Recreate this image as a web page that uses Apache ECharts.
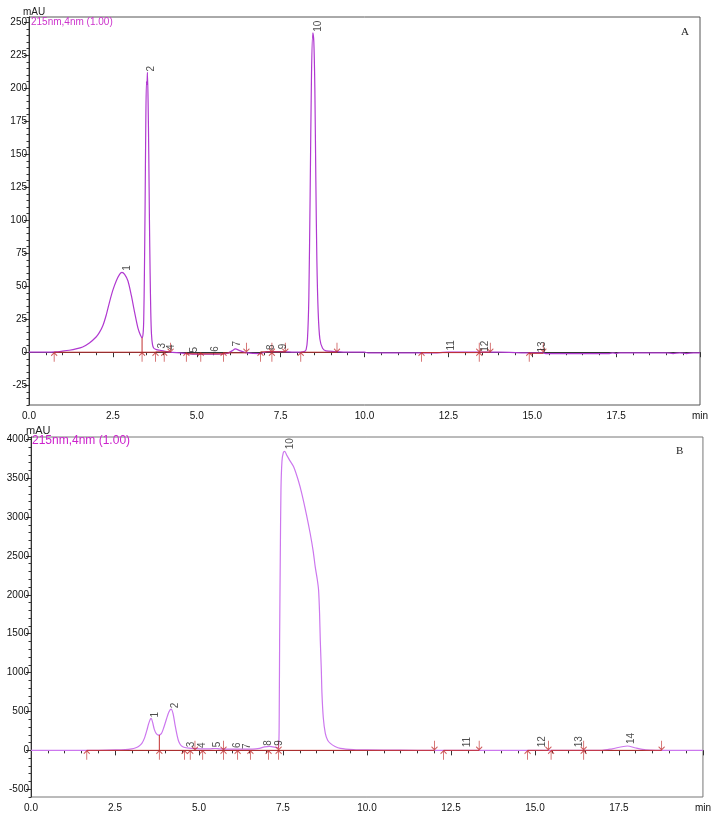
<!DOCTYPE html>
<html>
<head>
<meta charset="utf-8">
<script src="https://cdn.jsdelivr.net/npm/echarts@6.0.0/dist/echarts.min.js"></script>
<style>
  body { margin: 0; background: #fff; }
  #box { width: 714px; height: 814px; }
</style>
</head>
<body>
<div id="box"></div>
<script>
// ---- panel A : chromatogram (min, mAU) ----
const curveA = [
  [0, 0], [0.5, 0], [0.8, 0.2], [1.0, 0.8], [1.2, 1.5], [1.4, 2.5], [1.6, 4], [1.8, 7],
  [2.0, 11.5], [2.1, 15], [2.2, 20], [2.3, 28], [2.4, 38], [2.5, 47], [2.6, 54], [2.7, 59],
  [2.77, 60.5], [2.85, 59], [2.95, 54], [3.05, 43], [3.15, 30], [3.25, 18], [3.32, 13], [3.37, 11],
  [3.40, 14], [3.42, 25], [3.44, 60], [3.46, 110], [3.48, 170], [3.50, 205], [3.515, 203], [3.53, 212],
  [3.55, 190], [3.57, 150], [3.59, 100], [3.61, 60], [3.63, 30], [3.65, 14], [3.68, 6], [3.72, 3],
  [3.8, 2], [3.9, 1.5], [4.0, 1], [4.2, 0], [4.5, -0.5], [5.0, -1.5], [5.5, -1.5], [5.9, -1],
  [6.05, 1], [6.15, 2.5], [6.3, 1], [6.5, -0.5], [6.9, -1], [7.1, 0.5], [7.5, 0.5], [8.0, 0],
  [8.2, 0.5], [8.26, 2], [8.30, 10], [8.34, 40], [8.38, 120], [8.42, 210], [8.46, 242], [8.49, 235],
  [8.52, 200], [8.55, 130], [8.58, 70], [8.62, 30], [8.67, 10], [8.75, 3], [8.85, 1], [9.1, 0.5],
  [9.5, 0], [10.0, 0], [10.1, -0.5], [11, -0.5], [12, -0.5], [12.5, 0], [13, 0], [13.5, 0],
  [14, 0], [15, -0.5], [15.3, -0.5], [15.4, -1], [16, -1], [17, -1], [17.3, -1], [17.4, -0.5],
  [17.5, -1], [17.6, -0.5], [18, -0.5], [19, -0.5], [19.2, -1], [19.4, -0.5], [19.6, -1], [19.8, -0.5], [20, -0.5]
];
const peakNamesA = ['1', '2', '3', '4', '5', '6', '7', '8', '9', '10', '11', '12', '13'];
const peakTimesA = [2.92, 3.65, 3.97, 4.25, 4.94, 5.54, 6.2, 7.22, 7.57, 8.61, 12.58, 13.59, 15.3];
const peakLevelsA = [61, 212, 2, 1, -1, -0.5, 3.5, 1, 1.5, 242, 0.5, -0.5, -1];
const upArrowsA = [0.75, 3.37, 3.77, 4.03, 4.69, 5.12, 5.80, 6.90, 7.24, 8.10, 11.70, 13.42, 14.91];
const downArrowsA = [4.22, 6.48, 7.24, 7.64, 9.18, 13.42, 13.75, 15.33];
// baseline segments: [start, end, level]
const baseA = [[0.75, 3.77, 0], [3.77, 4.22, 0.3], [4.69, 5.80, -1.2], [5.80, 6.48, -0.5], [6.90, 7.64, 0.3],
  [8.10, 9.18, 0], [11.70, 13.42, -0.3], [13.42, 13.75, 0], [14.91, 15.33, -0.8]];
const dropA = [[3.37, 11]];
const yLabelsA = [-25, 0, 25, 50, 75, 100, 125, 150, 175, 200, 225, 250];

// ---- panel B ----
const curveB = [
  [0, 0], [1, 0], [1.66, 0], [2, 1], [2.5, 5], [2.8, 10], [3.0, 20], [3.1, 30], [3.2, 50], [3.3, 90],
  [3.38, 160], [3.45, 260], [3.5, 340], [3.55, 400], [3.58, 411], [3.62, 360], [3.67, 270], [3.73, 215],
  [3.8, 197], [3.88, 215], [3.95, 290], [4.03, 400], [4.1, 490], [4.17, 530], [4.23, 470], [4.29, 320],
  [4.35, 190], [4.4, 110], [4.47, 60], [4.55, 40], [4.7, 28], [4.9, 22], [5.1, 18], [5.3, 18], [5.5, 24],
  [5.6, 20], [5.8, 15], [6.0, 15], [6.3, 15], [6.6, 15], [6.8, 25], [6.95, 45], [7.1, 50], [7.2, 45],
  [7.3, 35], [7.37, 40], [7.39, 600], [7.40, 1400], [7.42, 2500], [7.44, 3350], [7.47, 3720], [7.51, 3830],
  [7.55, 3845], [7.62, 3790], [7.7, 3730], [7.82, 3645], [7.95, 3480], [8.06, 3303], [8.2, 3030], [8.31, 2789],
  [8.4, 2560], [8.46, 2360], [8.52, 2200], [8.56, 2060], [8.59, 1750], [8.61, 1418], [8.64, 1050], [8.66, 733],
  [8.7, 420], [8.76, 218], [8.83, 130], [8.91, 90], [9.05, 50], [9.21, 26], [9.6, 10], [10, 5], [11, 2],
  [12, 0], [14, 0], [17, 0], [17.3, 20], [17.75, 56], [18.0, 30], [18.3, 5], [18.6, 0], [20, 0]
];
const peakNamesB = ['1', '2', '3', '4', '5', '6', '7', '8', '9', '10', '11', '12', '13', '14'];
const peakTimesB = [3.70, 4.30, 4.77, 5.11, 5.54, 6.15, 6.45, 7.07, 7.40, 7.72, 12.99, 15.21, 16.33, 17.86];
const peakLevelsB = [411, 527, 26, 17, 26, 17, 4, 46, 46, 3860, 26, 26, 26, 68];
const upArrowsB = [1.66, 3.82, 4.57, 4.74, 5.11, 5.73, 6.15, 6.53, 7.07, 7.37, 12.28, 14.78, 15.48, 16.45];
const downArrowsB = [4.88, 5.73, 7.37, 12.01, 13.34, 15.40, 16.45, 18.77];
const baseB = [[1.66, 3.82, 0], [3.82, 4.57, 0], [4.57, 7.37, 0], [7.37, 12.01, 0], [12.28, 13.34, 0],
  [14.78, 15.40, 0], [15.48, 16.45, 0], [16.45, 18.77, 0]];
const dropB = [[3.82, 197]];
const yLabelsB = [-500, 0, 500, 1000, 1500, 2000, 2500, 3000, 3500, 4000];

const FONT = 'Liberation Sans';
const upPath = 'path://M0,4 L4,0 L8,4 M4,0 L4,12';
const downPath = 'path://M0,8 L4,12 L8,8 M4,12 L4,0';

function segData(base, drops) {
  const d = [];
  base.forEach(s => { d.push([s[0], s[2]], [s[1], s[2]], null); });
  drops.forEach(s => { d.push([s[0], s[1]], [s[0], 0], null); });
  return d;
}

function xAxis(gi) {
  return {
    type: 'value', gridIndex: gi, min: 0, max: 20, interval: 2.5,
    axisLine: { lineStyle: { color: '#333' } },
    axisTick: { length: 5, lineStyle: { color: '#333' } },
    minorTick: { show: true, splitNumber: 5, length: 3, lineStyle: { color: '#333' } },
    splitLine: { show: false },
    axisLabel: {
      color: '#111', fontSize: 10, fontFamily: FONT, margin: 6,
      formatter: v => (v === 20 ? 'min' : v.toFixed(1))
    }
  };
}

function yMajor(gi, min, max, labels) {
  return {
    type: 'value', gridIndex: gi, min: min, max: max, position: 'left',
    axisLine: { show: true, lineStyle: { color: '#333' } },
    axisTick: { show: true, length: 5, customValues: labels, lineStyle: { color: '#333' } },
    axisLabel: {
      color: '#111', fontSize: 10, fontFamily: FONT, margin: 2, customValues: labels,
      formatter: v => String(v)
    },
    splitLine: { show: false }
  };
}

function yMinor(gi, min, max, step) {
  return {
    type: 'value', gridIndex: gi, min: min, max: max, interval: step, position: 'left',
    axisLine: { show: false },
    axisTick: { show: true, length: 2.5, lineStyle: { color: '#333' } },
    axisLabel: { show: false },
    splitLine: { show: false }
  };
}

function panelSeries(xi, yi, curve, color, base, drops, ups, downs, names, times, levels, level0) {
  return [
    {
      type: 'line', xAxisIndex: xi, yAxisIndex: yi, data: curve, showSymbol: false,
      smooth: 0.25, lineStyle: { color: color, width: 1.2 }, z: 2, animation: false
    },
    {
      type: 'line', xAxisIndex: xi, yAxisIndex: yi, data: segData(base, drops), showSymbol: false,
      connectNulls: false, lineStyle: { color: '#c23030', width: 1 }, z: 3, animation: false
    },
    {
      type: 'scatter', xAxisIndex: xi, yAxisIndex: yi, data: ups.map(t => [t, level0]),
      symbol: upPath, symbolSize: [6, 9], symbolOffset: [0, 5],
      itemStyle: { color: 'transparent', borderColor: '#c23030', borderWidth: 1 }, z: 4, animation: false
    },
    {
      type: 'scatter', xAxisIndex: xi, yAxisIndex: yi, data: downs.map(t => [t, level0]),
      symbol: downPath, symbolSize: [6, 9], symbolOffset: [0, -5],
      itemStyle: { color: 'transparent', borderColor: '#c23030', borderWidth: 1 }, z: 4, animation: false
    },
    {
      type: 'scatter', xAxisIndex: xi, yAxisIndex: yi, symbolSize: 0,
      data: names.map((n, i) => [times[i], levels[i], n]),
      label: {
        show: true, formatter: p => p.data[2], rotate: 90, position: 'top', distance: 1,
        align: 'left', verticalAlign: 'middle', fontSize: 10, fontFamily: FONT, color: '#222'
      },
      z: 5, animation: false
    }
  ];
}

const chart = echarts.init(document.getElementById('box'), null, { renderer: 'canvas' });
const option = {
  backgroundColor: '#fff',
  animation: false,
  grid: [
    { left: 29, top: 17, width: 671, height: 388, show: true, borderColor: '#555', borderWidth: 1 },
    { left: 31, top: 437, width: 672, height: 360, show: true, borderColor: '#777', borderWidth: 1 }
  ],
  xAxis: [xAxis(0), xAxis(1)],
  yAxis: [
    yMajor(0, -40, 254, yLabelsA), yMinor(0, -40, 254, 5),
    yMajor(1, -600, 4030, yLabelsB), yMinor(1, -600, 4030, 100)
  ],
  graphic: [
    { type: 'text', left: 23, top: 7, style: { text: 'mAU', font: '10px ' + FONT, fill: '#222' } },
    { type: 'text', left: 31, top: 17, style: { text: '215nm,4nm (1.00)', font: '10px ' + FONT, fill: '#cc33cc' } },
    { type: 'text', left: 681, top: 27, style: { text: 'A', font: '11px Liberation Serif', fill: '#222' } },
    { type: 'text', left: 26, top: 425, style: { text: 'mAU', font: '11px ' + FONT, fill: '#222' } },
    { type: 'text', left: 32, top: 435, style: { text: '215nm,4nm (1.00)', font: '12px ' + FONT, fill: '#cc22cc' } },
    { type: 'text', left: 676, top: 446, style: { text: 'B', font: '11px Liberation Serif', fill: '#222' } }
  ],
  series: [].concat(
    panelSeries(0, 0, curveA, '#b038d0', baseA, dropA, upArrowsA, downArrowsA,
      peakNamesA, peakTimesA, peakLevelsA, 0),
    panelSeries(1, 2, curveB, '#cc77ee', baseB, dropB, upArrowsB, downArrowsB,
      peakNamesB, peakTimesB, peakLevelsB, 0)
  )
};
chart.setOption(option);
</script>
</body>
</html>
